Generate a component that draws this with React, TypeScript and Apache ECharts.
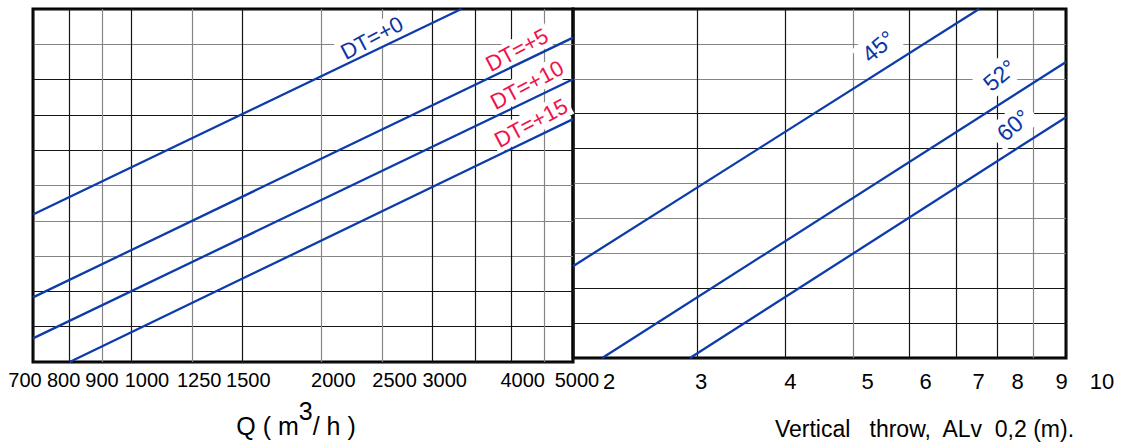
import { useEffect, useRef } from 'react';
import * as echarts from 'echarts';

// ---------- data ----------
// Left panel: air flow Q (m3/h), logarithmic scale
const Q_MIN = 700;
const Q_MAX = 5000;
const Q_GRID = [700, 800, 900, 1000, 1250, 1500, 2000, 2500, 3000, 3500, 4000, 4500, 5000];
const Q_TICK_LABELS = [700, 800, 900, 1000, 1250, 1500, 2000, 2500, 3000, 4000, 5000];

// Right panel: vertical throw ALv 0,2 (m), logarithmic scale
const V_MIN = 2;
const V_MAX = 10;
const V_GRID = [2, 3, 4, 5, 6, 7, 8, 9, 10];
const V_TICK_LABELS = [2, 3, 4, 5, 6, 7, 8, 9, 10];

// Common (unlabelled) vertical scale
const Y_MIN = 0;
const Y_MAX = 10;
const Y_STEP = 1;

// Temperature-difference curves (Q, y)
const DT0 = [[700, 4.18], [3330, 10]];
const DT5 = [[700, 1.83], [5000, 9.19]];
const DT10 = [[700, 0.67], [5000, 8.01]];
const DT15 = [[800, 0], [5000, 6.88]];

// Angle curves (throw, y)
const A45 = [[2, 2.63], [7.53, 10]];
const A52 = [[2.2, 0], [10, 8.48]];
const A60 = [[2.93, 0], [10, 6.9]];

// Curve captions and where they sit (data coordinates)
const LEFT_CAPTIONS = ['DT=+0', 'DT=+5', 'DT=+10', 'DT=+15'];
const LEFT_CAPTION_AT = [[2404, 9.18], [4077, 8.84], [4228, 7.85], [4290, 6.77]];
const RIGHT_CAPTIONS = ['45°', '52°', '60°'];
const RIGHT_CAPTION_AT = [[5.42, 8.93], [8.05, 8.1], [8.42, 6.67]];

// ---------- styles ----------
const FONT = "'Liberation Sans', Arial, Helvetica, sans-serif";
const LINE_BLUE = '#0d3caa';
const TEXT_BLUE = '#0c36a4';
const RED = '#f0124a';
const K = '#141414';
const G = '#858585';

const Q_GRID_COLORS = [K, K, G, K, G, K, G, G, K, K, K, G, K];
const V_GRID_COLORS = [K, K, K, G, K, K, K, G, K];
const Y_COLORS_L = [K, K, K, G, G, G, K, K, K, G, K];
const Y_COLORS_R = [K, K, K, G, G, G, K, K, G, G, K];

// horizontal pixel shift of each tick label relative to its grid line
const Q_LABEL_SHIFT = [-8, -6, 0, 16, 7, 6, 12, 12, 12, 11, 4];
const V_LABEL_SHIFT = [36, 4, 5, 14, 16, 22, 20, 28, 36];
const LEFT_CAPTION_COLORS = [TEXT_BLUE, RED, RED, RED];
const LEFT_CAPTION_ROT = 28;
const RIGHT_CAPTION_ROT = 40;

function shiftRich(shifts: number[], fontSize: number) {
  const r: Record<string, any> = {};
  shifts.forEach((d, i) => {
    r['t' + i] = {
      fontSize,
      fontFamily: FONT,
      color: '#000',
      padding: [0, d < 0 ? -2 * d : 0, 0, d > 0 ? 2 * d : 0],
    };
  });
  return r;
}

function nearestIndex(arr: number[], v: number) {
  let best = 0;
  let bd = Infinity;
  arr.forEach((a, i) => {
    const d = Math.abs(Math.log(a / v));
    if (d < bd) {
      bd = d;
      best = i;
    }
  });
  return best;
}

function lineSeries(data: number[][], axis: number) {
  return {
    type: 'line',
    xAxisIndex: axis,
    yAxisIndex: axis,
    data,
    symbol: 'none',
    showSymbol: false,
    silent: true,
    z: 3,
    lineStyle: { color: LINE_BLUE, width: 2.3 },
  };
}

export default function App() {
  const ref = useRef<HTMLDivElement>(null);

  useEffect(() => {
    if (!ref.current) return;
    const chart = echarts.init(ref.current, undefined, { renderer: 'svg' });

    const option: any = {
      animation: false,
      backgroundColor: '#fff',
      grid: [
        { left: 33, top: 9, width: 540, height: 353, show: true, borderColor: '#000', borderWidth: 3 },
        { left: 573, top: 9, width: 493, height: 353, show: true, borderColor: '#000', borderWidth: 3 },
      ],
      xAxis: [
        {
          type: 'log',
          logBase: 10,
          gridIndex: 0,
          min: Q_MIN,
          max: Q_MAX,
          axisLine: { show: false },
          axisTick: { show: false, customValues: Q_GRID },
          axisLabel: {
            customValues: Q_TICK_LABELS,
            margin: 8,
            formatter: (v: number) => {
              const i = nearestIndex(Q_TICK_LABELS, v);
              return `{t${i}|${Q_TICK_LABELS[i]}}`;
            },
            rich: shiftRich(Q_LABEL_SHIFT, 20),
          },
          splitLine: { show: true, lineStyle: { color: Q_GRID_COLORS, width: 1.2 } },
          name: '{a|Q ( m}{s|3}{a|/ h )}',
          nameLocation: 'middle',
          nameGap: 36,
          nameTextStyle: {
            padding: [0, 14, 0, 0],
            rich: {
              a: { fontSize: 25, fontFamily: FONT, color: '#000' },
              s: { fontSize: 25, fontFamily: FONT, color: '#000', padding: [0, 0, 30, 0] },
            },
          },
        },
        {
          type: 'log',
          logBase: 10,
          gridIndex: 1,
          min: V_MIN,
          max: V_MAX,
          axisLine: { show: false },
          axisTick: { show: false, customValues: V_GRID },
          axisLabel: {
            customValues: V_TICK_LABELS,
            margin: 12,
            formatter: (v: number) => {
              const i = nearestIndex(V_TICK_LABELS, v);
              return `{t${i}|${V_TICK_LABELS[i]}}`;
            },
            rich: shiftRich(V_LABEL_SHIFT, 22),
          },
          splitLine: { show: true, lineStyle: { color: V_GRID_COLORS, width: 1.2 } },
          name: 'Vertical   throw,  ALv  0,2 (m).',
          nameLocation: 'middle',
          nameGap: 59,
          nameTextStyle: { fontSize: 23, fontFamily: FONT, color: '#000', padding: [0, 0, 0, 210] },
        },
      ],
      yAxis: [
        {
          type: 'value',
          gridIndex: 0,
          min: Y_MIN,
          max: Y_MAX,
          interval: Y_STEP,
          axisLine: { show: false },
          axisTick: { show: false },
          axisLabel: { show: false },
          splitLine: { show: true, lineStyle: { color: Y_COLORS_L, width: 1.2 } },
        },
        {
          type: 'value',
          gridIndex: 1,
          min: Y_MIN,
          max: Y_MAX,
          interval: Y_STEP,
          axisLine: { show: false },
          axisTick: { show: false },
          axisLabel: { show: false },
          splitLine: { show: true, lineStyle: { color: Y_COLORS_R, width: 1.2 } },
        },
      ],
      series: [
        lineSeries(DT0, 0),
        lineSeries(DT5, 0),
        lineSeries(DT10, 0),
        lineSeries(DT15, 0),
        lineSeries(A45, 1),
        lineSeries(A52, 1),
        lineSeries(A60, 1),
        {
          type: 'scatter',
          xAxisIndex: 0,
          yAxisIndex: 0,
          symbolSize: 0,
          silent: true,
          z: 1,
          itemStyle: { opacity: 1 },
          data: LEFT_CAPTIONS.map((t, i) => ({
            value: LEFT_CAPTION_AT[i],
            label: { formatter: t, color: LEFT_CAPTION_COLORS[i] },
          })),
          label: {
            show: true,
            position: 'inside',
            rotate: LEFT_CAPTION_ROT,
            fontSize: 22,
            fontFamily: FONT,
            backgroundColor: '#fff',
            padding: [1, 3],
          },
        },
        {
          type: 'scatter',
          xAxisIndex: 1,
          yAxisIndex: 1,
          symbolSize: 0,
          silent: true,
          z: 1,
          itemStyle: { opacity: 1 },
          data: RIGHT_CAPTIONS.map((t, i) => ({
            value: RIGHT_CAPTION_AT[i],
            label: { formatter: t },
          })),
          label: {
            show: true,
            position: 'inside',
            rotate: RIGHT_CAPTION_ROT,
            fontSize: 23,
            fontFamily: FONT,
            color: TEXT_BLUE,
            backgroundColor: '#fff',
            padding: [3, 6],
          },
        },
      ],
    };

    chart.setOption(option);
    return () => chart.dispose();
  }, []);

  return (
    <div
      ref={ref}
      style={{ position: 'absolute', left: 0, top: 0, width: 1122, height: 445 }}
    />
  );
}
